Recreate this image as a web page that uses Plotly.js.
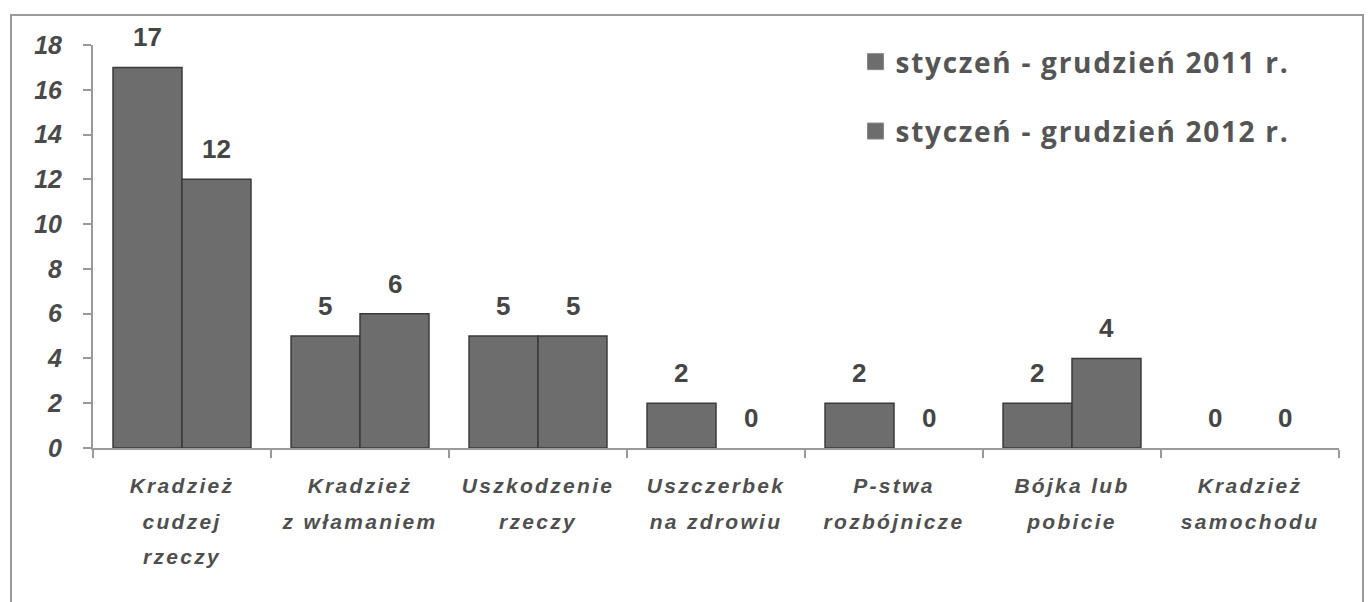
<!DOCTYPE html>
<html><head><meta charset="utf-8">
<script src="https://cdn.plot.ly/plotly-3.0.1.min.js"></script>
<style>
html,body{margin:0;padding:0;background:#fff;}
#wrap{position:relative;width:1372px;height:602px;overflow:hidden;}
#chart{width:1372px;height:602px;}
#frame{position:absolute;left:10px;top:14px;width:1350px;height:620px;border:2px solid #9a9a9a;pointer-events:none;}
.legendtext{letter-spacing:1.7px;}
.xtick text{letter-spacing:2.3px;}
</style></head>
<body><div id="wrap"><div id="chart"></div><div id="frame"></div></div>
<script>
var categories = ["Kradzież<br>cudzej<br>rzeczy","Kradzież<br>z włamaniem","Uszkodzenie<br>rzeczy","Uszczerbek<br>na zdrowiu","P-stwa<br>rozbójnicze","Bójka lub<br>pobicie","Kradzież<br>samochodu"];
var series2011 = [17,5,5,2,2,2,0];
var series2012 = [12,6,5,0,0,4,0];
var seriesNames = ["styczeń - grudzień 2011 r.","styczeń - grudzień 2012 r."];
var yTicks = [0,2,4,6,8,10,12,14,16,18];

var fillColor = '#6d6d6d', edgeColor = '#3a3a3a';
function barMarker(vals){
  return {color:fillColor, line:{color:edgeColor, width:vals.map(function(v){return v===0?0:1.5;})}};
}
var traces = [
  {type:'bar', x:categories, y:series2011, name:seriesNames[0], marker:barMarker(series2011), showlegend:false, hoverinfo:'y'},
  {type:'bar', x:categories, y:series2012, name:seriesNames[1], marker:barMarker(series2012), showlegend:false, hoverinfo:'y'},
  {type:'scatter', mode:'markers', x:[null], y:[null], name:seriesNames[0], legendgroup:'a',
    marker:{symbol:'square', size:18, color:fillColor, line:{color:'#888', width:1}}},
  {type:'scatter', mode:'markers', x:[null], y:[null], name:seriesNames[1], legendgroup:'b',
    marker:{symbol:'square', size:18, color:fillColor, line:{color:'#888', width:1}}}
];

var annotations = [];
var off = 0.194;
[series2011, series2012].forEach(function(s, si){
  s.forEach(function(v, i){
    annotations.push({x:i + (si===0?-off:off), y:v, xref:'x', yref:'y', text:String(v), showarrow:false,
      yanchor:'bottom', yshift:13, font:{family:'Liberation Sans, Arial', size:26, color:'#454545', weight:'bold'}});
  });
});

var layout = {
  width:1372, height:602,
  margin:{l:93, r:33, t:45, b:154},
  paper_bgcolor:'#fff', plot_bgcolor:'#fff',
  barmode:'group', bargap:0.225, bargroupgap:0,
  showlegend:true,
  legend:{x:0.612, y:1.02, xanchor:'left', yanchor:'top', traceorder:'grouped', tracegroupgap:30,
    font:{family:'Open Sans, Liberation Sans', size:28, color:'#555', weight:'bold'}, bgcolor:'rgba(0,0,0,0)'},
  xaxis:{type:'category', showline:true, linecolor:'#9a9a9a', linewidth:2, ticks:'outside', tickson:'boundaries',
    ticklen:8, tickcolor:'#9a9a9a', tickwidth:2, showgrid:false, zeroline:false, ticklabelstandoff:18,
    tickfont:{family:'Liberation Sans, Arial', size:21, color:'#4f4f4f', style:'italic', weight:'bold'}},
  yaxis:{range:[0,18], tickvals:yTicks, showline:true, linecolor:'#9a9a9a', linewidth:2, ticks:'outside', ticklen:8,
    tickcolor:'#9a9a9a', tickwidth:2, showgrid:false, zeroline:false, ticklabelstandoff:16,
    tickfont:{family:'Liberation Sans, Arial', size:25, color:'#4a4a4a', style:'italic', weight:'bold'}},
  annotations:annotations
};
Plotly.newPlot('chart', traces, layout, {displayModeBar:false, staticPlot:true}).then(function(){
  document.querySelectorAll('.xtick text').forEach(function(t){
    var lines = t.querySelectorAll('tspan.line');
    lines.forEach(function(l, i){ l.setAttribute('dy', (i*35.5)+'px'); });
  });
});
</script></body></html>
